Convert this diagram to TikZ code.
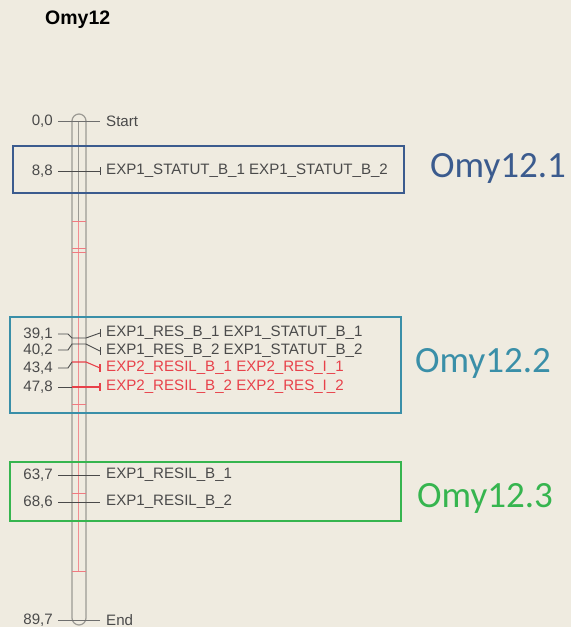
\documentclass[tikz,border=0pt]{standalone}
\usepackage{fontspec}
\setmainfont{Liberation Sans}
\newfontfamily\calib{Carlito}
\definecolor{bg}{HTML}{EFEBE0}
\definecolor{txt}{HTML}{4A4A4A}
\definecolor{qred}{HTML}{E8414A}
\definecolor{boxA}{HTML}{3B5B8E}
\definecolor{boxB}{HTML}{3A8FA8}
\definecolor{boxC}{HTML}{36B54F}
\definecolor{chr}{HTML}{9C9A94}
\begin{document}
\begin{tikzpicture}[x=1pt,y=-1pt,
  lab/.style={font=\fontsize{15.1}{17}\selectfont, text=txt, inner sep=0pt, anchor=west},
  rlab/.style={lab, text=qred},
  num/.style={font=\fontsize{15.1}{17}\selectfont, text=txt, inner sep=0pt, anchor=east},
  tick/.style={draw=txt, line width=0.9pt},
  rtick/.style={draw=qred, line width=1.1pt},
  grp/.style={draw, line width=2pt},
  omy/.style={font=\calib\fontsize{37}{40}\selectfont, inner sep=0pt, anchor=base west}]
\fill[bg] (0,0) rectangle (571,627);
\useasboundingbox (0,0) rectangle (571,627);
% title
\node[font=\bfseries\fontsize{19.5}{22}\selectfont, inner sep=0pt, anchor=west] (title) at (45,20) {Omy12};
% chromosome
\draw[chr, line width=1.2pt] (72,121) arc[start angle=180, end angle=360, radius=7] -- (86,618) arc[start angle=0, end angle=180, radius=7] -- cycle;
\draw[chr, line width=0.9pt] (78,121) -- (78,221);
\draw[qred!60, line width=1pt] (78,221) -- (78,571);
\foreach \yy in {221,248,252,404,493,571} \draw[qred!70, line width=1pt] (72,\yy) -- (86,\yy);
% markers
\coordinate (s0) at (100,121);
\draw[tick, draw=txt!80] (58,121) -- (s0);
\node[lab] (m0) at (106,121) {Start};
\node[num] (n0) at (53,121) {0,0};

\draw[tick] (58,171) -- (100,171); \draw[tick] (100,167) -- (100,175);
\node[lab] (m1) at (106,171) {EXP1\_STATUT\_B\_1 EXP1\_STATUT\_B\_2};
\node[num] (n1) at (53,171) {8,8};

\draw[tick] (58,334) -- (68,334) -- (72,338) -- (86,338) -- (100,333); \draw[tick] (100,329) -- (100,337);
\node[lab] (m2) at (106,333) {EXP1\_RES\_B\_1 EXP1\_STATUT\_B\_1};
\node[num] (n2) at (53,334) {39,1};

\draw[tick] (58,350) -- (68,350) -- (72,344) -- (86,344) -- (100,351); \draw[tick] (100,347) -- (100,355);
\node[lab] (m3) at (106,351) {EXP1\_RES\_B\_2 EXP1\_STATUT\_B\_2};
\node[num] (n3) at (53,350) {40,2};

\draw[tick] (58,368) -- (68,368) -- (72,362);
\draw[rtick] (72,362) -- (86,362) -- (100,368); \draw[rtick] (100,364) -- (100,372);
\node[rlab] (m4) at (106,368) {EXP2\_RESIL\_B\_1 EXP2\_RES\_I\_1};
\node[num] (n4) at (53,368) {43,4};

\draw[tick] (58,387) -- (72,387); \draw[rtick] (72,387) -- (100,387); \draw[rtick] (100,383) -- (100,391);
\node[rlab] (m5) at (106,387) {EXP2\_RESIL\_B\_2 EXP2\_RES\_I\_2};
\node[num] (n5) at (53,387) {47,8};

\draw[tick] (58,475) -- (100,475);
\node[lab] (m6) at (106,475) {EXP1\_RESIL\_B\_1};
\node[num] (n6) at (53,475) {63,7};

\draw[tick] (58,502) -- (100,502);
\node[lab] (m7) at (106,502) {EXP1\_RESIL\_B\_2};
\node[num] (n7) at (53,502) {68,6};

\draw[tick, draw=txt!80] (58,620) -- (100,620);
\node[lab] (m8) at (106,620) {End};
\node[num] (n8) at (53,620) {89,7};
% groups
\draw[grp, boxA] (13,146) rectangle (404,193);
\draw[grp, boxB] (10,317) rectangle (401,413);
\draw[grp, boxC] (10,462) rectangle (401,521);
\node[omy, text=boxA] (g1) at (430,177) {Omy12.1};
\node[omy, text=boxB] (g2) at (415,372) {Omy12.2};
\node[omy, text=boxC] (g3) at (417,507) {Omy12.3};
\end{tikzpicture}
\end{document}
